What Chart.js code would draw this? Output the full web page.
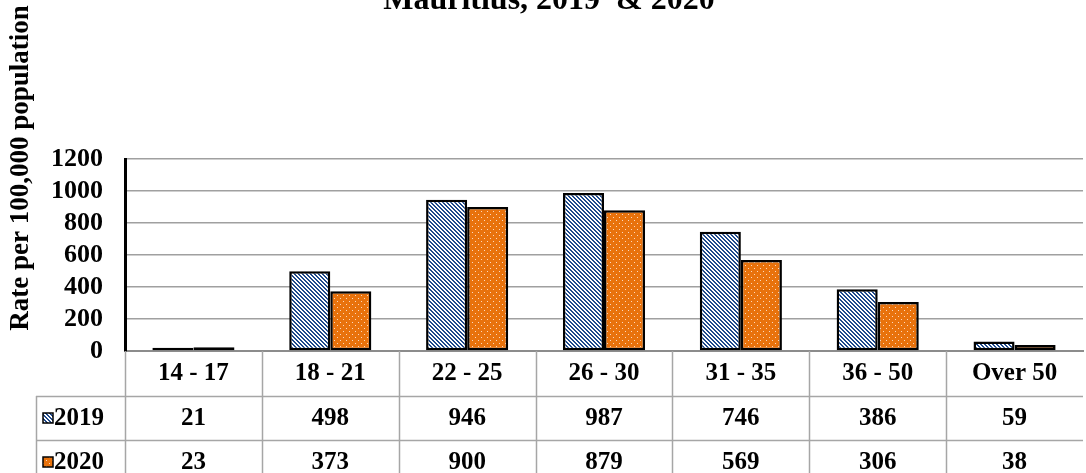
<!DOCTYPE html>
<html lang="en">
<head>
<meta charset="UTF-8">
<title>Mauritius, 2019 & 2020</title>
<script src="https://cdn.jsdelivr.net/npm/chart.js"></script>
<style>
    html, body { margin: 0; padding: 0; background: #fff; }
    #wrap { width: 1086px; height: 473px; position: relative; }
</style>
</head>
<body>
<div id="wrap"><canvas id="chart"></canvas></div>
<script>
// Data
const ageGroups = ['14 - 17', '18 - 21', '22 - 25', '26 - 30', '31 - 35', '36 - 50', 'Over 50'];
const rates2019 = [21, 498, 946, 987, 746, 386, 59];
const rates2020 = [23, 373, 900, 879, 569, 306, 38];
const seriesNames = ['2019', '2020'];
const yTicks = [0, 200, 400, 600, 800, 1000, 1200];

const FONT = "'Liberation Serif', 'Times New Roman', serif";

// Fill patterns (blue diagonal hatch, orange with white dots)
function hatchPattern() {
    const c = document.createElement('canvas');
    c.width = 4; c.height = 4;
    const g = c.getContext('2d');
    g.fillStyle = '#ffffff';
    g.fillRect(0, 0, 4, 4);
    g.fillStyle = '#1f4a8c';
    for (let y = 0; y < 4; y++) {
        for (let x = 0; x < 4; x++) {
            const d = ((x - y) % 4 + 4) % 4;
            if (d < 2) g.fillRect(x, y, 1, 1);
        }
    }
    return g.createPattern(c, 'repeat');
}
function dotPattern() {
    const c = document.createElement('canvas');
    c.width = 6; c.height = 6;
    const g = c.getContext('2d');
    g.fillStyle = '#e8720c';
    g.fillRect(0, 0, 6, 6);
    g.fillStyle = '#fbd9bd';
    g.fillRect(1, 1, 1, 1);
    g.fillRect(4, 4, 1, 1);
    return g.createPattern(c, 'repeat');
}
const fills = [hatchPattern(), dotPattern()];
const seriesData = [rates2019, rates2020];

// Title, axis title and data table drawn under the plot
const tablePlugin = {
    id: 'dataTable',
    afterDraw(chart) {
        const ctx = chart.ctx;
        const area = chart.chartArea;
        const n = ageGroups.length;
        const colW = (area.right - area.left) / n;
        const rowTop = area.bottom;
        const rows = [rowTop + 45, rowTop + 89];
        const labelLeft = 36;

        ctx.save();
        // title (top cut off in the reference)
        ctx.fillStyle = '#000';
        ctx.font = 'bold 32px ' + FONT;
        ctx.textAlign = 'center';
        ctx.textBaseline = 'alphabetic';
        ctx.fillText('Mauritius, 2019  & 2020', 549, 9);

        // y axis title
        ctx.save();
        ctx.translate(28, 168);
        ctx.rotate(-Math.PI / 2);
        ctx.font = 'bold 27px ' + FONT;
        ctx.fillText('Rate per 100,000 population', 0, 0);
        ctx.restore();

        // table lines
        ctx.strokeStyle = '#a6a6a6';
        ctx.lineWidth = 1.5;
        ctx.beginPath();
        for (let i = 0; i < n; i++) {
            const x = Math.round(area.left + i * colW) + 0.5;
            ctx.moveTo(x, rowTop);
            ctx.lineTo(x, chart.height);
        }
        rows.forEach(y => {
            ctx.moveTo(labelLeft, y + 0.5);
            ctx.lineTo(area.right, y + 0.5);
        });
        ctx.moveTo(labelLeft + 0.5, rows[0]);
        ctx.lineTo(labelLeft + 0.5, chart.height);
        ctx.stroke();

        // category header
        ctx.fillStyle = '#000';
        ctx.font = 'bold 25px ' + FONT;
        ctx.textAlign = 'center';
        ctx.textBaseline = 'middle';
        const xs = chart.scales.x;
        ageGroups.forEach((g, i) => {
            ctx.fillText(g, xs.getPixelForValue(i), rowTop + 23);
        });

        // series rows
        seriesData.forEach((vals, s) => {
            const yc = rows[s] + 23;
            vals.forEach((v, i) => {
                ctx.fillText(String(v), xs.getPixelForValue(i), yc);
            });
            // legend key
            ctx.fillStyle = fills[s];
            ctx.fillRect(43, yc - 6, 10, 10);
            ctx.strokeStyle = '#000';
            ctx.lineWidth = 1.5;
            ctx.strokeRect(43, yc - 6, 10, 10);
            ctx.fillStyle = '#000';
            ctx.textAlign = 'left';
            ctx.fillText(seriesNames[s], 54, yc);
            ctx.textAlign = 'center';
        });
        ctx.restore();
    }
};

new Chart(document.getElementById('chart'), {
    type: 'bar',
    data: {
        labels: ageGroups,
        datasets: seriesData.map((vals, s) => ({
            label: seriesNames[s],
            data: vals,
            backgroundColor: fills[s],
            borderColor: '#000',
            borderWidth: 2.5,
            borderSkipped: false,
            categoryPercentage: 0.6,
            barPercentage: 1.0
        }))
    },
    options: {
        responsive: true,
        maintainAspectRatio: false,
        animation: false,
        layout: { padding: { top: 159, bottom: 122, left: 0, right: 3 } },
        plugins: {
            legend: { display: false },
            tooltip: { enabled: false }
        },
        scales: {
            x: {
                grid: { display: false },
                ticks: { display: false },
                border: { color: '#8c8c8c', width: 2 },
                afterFit(scale) { scale.height = 0; }
            },
            y: {
                min: 0,
                max: 1200,
                afterBuildTicks(scale) { scale.ticks = yTicks.map(v => ({ value: v })); },
                grid: { color: '#a0a0a0', lineWidth: 1.5, drawTicks: false },
                border: { color: '#000', width: 3 },
                ticks: {
                    color: '#000',
                    padding: 22,
                    autoSkip: false,
                    font: { family: FONT, size: 26, weight: 'bold' },
                    callback: v => String(v)
                },
                afterFit(scale) { scale.width = 125; }
            }
        }
    },
    plugins: [tablePlugin]
});
</script>
</body>
</html>
